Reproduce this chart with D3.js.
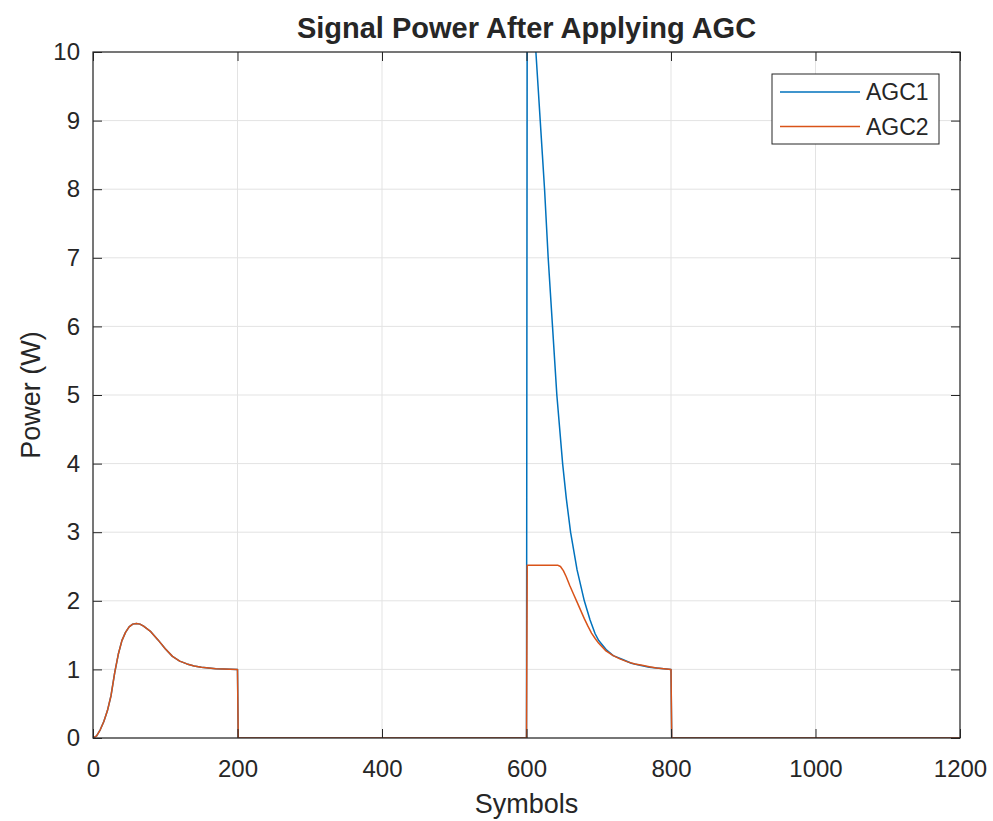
<!DOCTYPE html>
<html>
<head>
<meta charset="utf-8">
<script src="https://cdn.jsdelivr.net/npm/d3@7"></script>
<style>
  body { margin: 0; background: #fff; }
  text { font-family: 'Liberation Sans', Arial, sans-serif; fill: #262626; }
</style>
</head>
<body>
<div class="container"></div>
<script>
const w = 993;
const h = 821;
const margin = { top: 52, right: 33, bottom: 83, left: 93 };

// first burst: both AGCs give the same power here
const burst1Symbols = [0, 5, 10, 15, 20, 25, 30, 35, 40, 45, 50, 55, 60, 65, 70, 80, 90, 100, 110, 120, 130, 140, 150, 170, 200];
const burst1Power = [0, 0.03, 0.12, 0.24, 0.4, 0.62, 0.95, 1.22, 1.42, 1.54, 1.62, 1.66, 1.67, 1.66, 1.63, 1.55, 1.43, 1.3, 1.19, 1.12, 1.08, 1.05, 1.03, 1.01, 1.0];

// gap between bursts and after the second burst
const gap1Symbols = [201, 600];
const gap2Symbols = [801, 1200];

// second burst
const agc1Symbols = [601, 604, 607, 610, 613, 616, 619, 622, 625, 630, 636, 642, 650, 655, 661, 670, 680, 688, 695, 700, 711, 720, 734, 745, 757, 770, 780, 790, 800];
const agc1Power = [10.8, 11.3, 11.2, 10.7, 10.0, 9.5, 9.0, 8.5, 8.0, 7.0, 6.0, 5.0, 4.0, 3.5, 3.0, 2.45, 2.0, 1.72, 1.52, 1.42, 1.28, 1.2, 1.14, 1.09, 1.06, 1.03, 1.02, 1.01, 1.0];

const agc2Symbols = [601, 643, 647, 651, 655, 660, 665, 670, 675, 680, 685, 690, 695, 700, 710, 720, 730, 740, 750, 760, 770, 780, 790, 800];
const agc2Power = [2.52, 2.52, 2.5, 2.44, 2.35, 2.22, 2.1, 1.98, 1.86, 1.74, 1.63, 1.53, 1.45, 1.38, 1.27, 1.2, 1.15, 1.11, 1.08, 1.06, 1.04, 1.02, 1.01, 1.0];

const xTicks = [0, 200, 400, 600, 800, 1000, 1200];
const yTicks = [0, 1, 2, 3, 4, 5, 6, 7, 8, 9, 10];
const seriesNames = ['AGC1', 'AGC2'];
const colors = ['#0072BD', '#D95319'];

function zip(xs, ys) {
  return xs.map((x, i) => ({ x: x, y: ys[i] }));
}

function zeros(xs) {
  return xs.map((x) => ({ x: x, y: 0 }));
}

const agc1 = [].concat(zip(burst1Symbols, burst1Power), zeros(gap1Symbols), zip(agc1Symbols, agc1Power), zeros(gap2Symbols));
const agc2 = [].concat(zip(burst1Symbols, burst1Power), zeros(gap1Symbols), zip(agc2Symbols, agc2Power), zeros(gap2Symbols));

const iw = w - margin.left - margin.right;
const ih = h - margin.top - margin.bottom;

const x = d3.scaleLinear().domain([0, 1200]).range([0, iw]);
const y = d3.scaleLinear().domain([0, 10]).range([ih, 0]);

const svg = d3.select('.container').append('svg').attr('width', w).attr('height', h);
const g = svg.append('g').attr('transform', `translate(${margin.left},${margin.top})`);

svg.append('defs').append('clipPath').attr('id', 'clip')
  .append('rect').attr('width', iw).attr('height', ih);

// grid
g.append('g').selectAll('line').data(xTicks).enter().append('line')
  .attr('x1', (d) => x(d)).attr('x2', (d) => x(d))
  .attr('y1', 0).attr('y2', ih)
  .attr('stroke', '#e3e3e3').attr('stroke-width', 1);
g.append('g').selectAll('line').data(yTicks).enter().append('line')
  .attr('x1', 0).attr('x2', iw)
  .attr('y1', (d) => y(d)).attr('y2', (d) => y(d))
  .attr('stroke', '#e3e3e3').attr('stroke-width', 1);

// lines
const line = d3.line().x((d) => x(d.x)).y((d) => y(d.y));
const plot = g.append('g').attr('clip-path', 'url(#clip)');
[agc1, agc2].forEach((data, i) => {
  plot.append('path').datum(data)
    .attr('d', line)
    .attr('fill', 'none')
    .attr('stroke', colors[i])
    .attr('stroke-width', 1.5)
    .attr('stroke-linejoin', 'round');
});

// axes, ticks point inward on all four sides
const tickLen = 9;
const axisStyle = (sel) => {
  sel.select('.domain').remove();
  sel.selectAll('line').attr('stroke', '#262626');
  sel.selectAll('text').attr('font-size', '24px').attr('fill', '#262626')
    .attr('font-family', "'Liberation Sans', Arial, sans-serif");
};

g.append('g').attr('transform', `translate(0,${ih})`)
  .call(d3.axisBottom(x).tickValues(xTicks).tickSize(-tickLen).tickPadding(22).tickFormat(d3.format('d')))
  .call(axisStyle);
g.append('g')
  .call(d3.axisLeft(y).tickValues(yTicks).tickSize(-tickLen).tickPadding(13).tickFormat(d3.format('d')))
  .call(axisStyle);
g.append('g')
  .call(d3.axisTop(x).tickValues(xTicks).tickSize(-tickLen).tickFormat(''))
  .call(axisStyle);
g.append('g').attr('transform', `translate(${iw},0)`)
  .call(d3.axisRight(y).tickValues(yTicks).tickSize(-tickLen).tickFormat(''))
  .call(axisStyle);

g.append('rect').attr('width', iw).attr('height', ih)
  .attr('fill', 'none').attr('stroke', '#262626').attr('stroke-width', 1.2);

// labels
svg.append('text').attr('x', margin.left + iw / 2).attr('y', 38)
  .attr('text-anchor', 'middle').attr('font-size', '29px').attr('font-weight', 'bold')
  .attr('fill', '#000').text('Signal Power After Applying AGC');
svg.append('text').attr('x', margin.left + iw / 2).attr('y', 813)
  .attr('text-anchor', 'middle').attr('font-size', '27px').text('Symbols');
svg.append('text').attr('transform', `translate(40,${margin.top + ih / 2}) rotate(-90)`)
  .attr('text-anchor', 'middle').attr('font-size', '27px').text('Power (W)');

// legend
const legend = svg.append('g').attr('transform', 'translate(772,74)');
legend.append('rect').attr('width', 167).attr('height', 70)
  .attr('fill', '#fff').attr('stroke', '#262626').attr('stroke-width', 1);
seriesNames.forEach((name, i) => {
  const ly = 18 + i * 34.5;
  legend.append('line').attr('x1', 8).attr('x2', 88).attr('y1', ly).attr('y2', ly)
    .attr('stroke', colors[i]).attr('stroke-width', 1.5);
  legend.append('text').attr('x', 94).attr('y', ly + 8)
    .attr('font-size', '23px').text(name);
});
</script>
</body>
</html>
